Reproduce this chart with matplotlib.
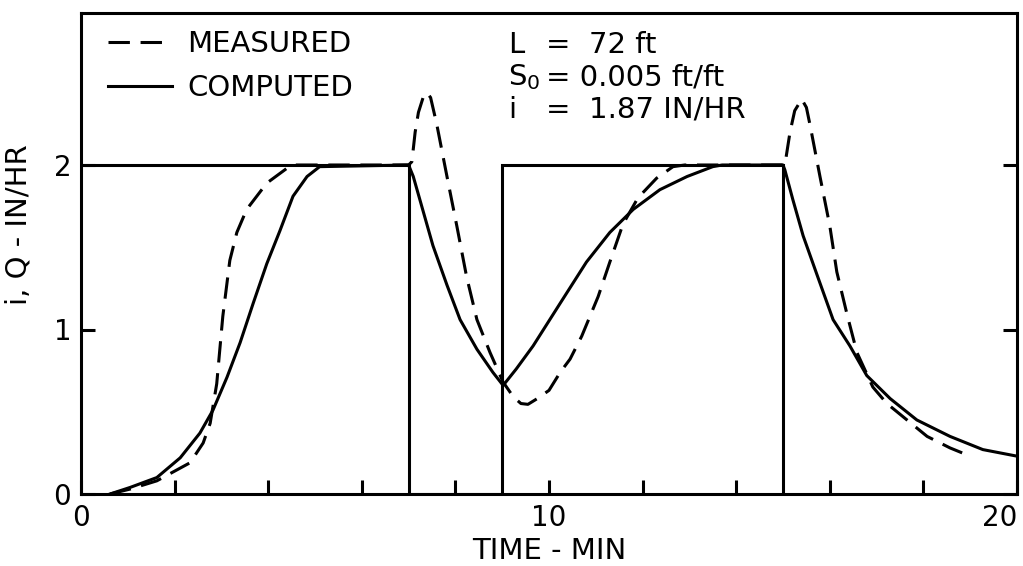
import matplotlib
matplotlib.use('Agg')
import matplotlib.pyplot as plt

# Rainfall step (i) and hydrograph (Q) readings, minutes vs IN/HR
rain_t = [0, 7, 7, 9, 9, 15, 15]
rain_i = [2, 2, 0, 0, 2, 2, 0]

comp_t = [0.62, 1.05, 1.62, 2.12, 2.54, 2.82, 3.12, 3.4, 3.68, 3.97, 4.25, 4.53, 4.83, 5.1,
          7.0, 7.1, 7.3, 7.52, 7.82, 8.1, 8.46, 8.8, 9.02,
          9.3, 9.66, 10.24, 10.8, 11.3, 11.8, 12.37, 12.95, 13.5, 13.7,
          15.0, 15.04, 15.21, 15.43, 15.73, 16.07, 16.43, 16.79, 17.29, 17.86, 18.57, 19.27, 20.0]
comp_q = [0.0, 0.04, 0.1, 0.22, 0.37, 0.51, 0.71, 0.92, 1.16, 1.4, 1.6, 1.81, 1.93, 1.99,
          2.0, 1.93, 1.73, 1.51, 1.27, 1.06, 0.88, 0.74, 0.66,
          0.76, 0.9, 1.16, 1.41, 1.59, 1.73, 1.85, 1.93, 1.99, 2.0,
          2.0, 1.97, 1.79, 1.57, 1.33, 1.06, 0.9, 0.72, 0.58, 0.45, 0.35, 0.27, 0.23]

meas_t = [0.62, 1.05, 1.62, 2.33, 2.61, 2.76, 2.9, 3.03, 3.18, 3.33, 3.54, 3.97, 4.4, 4.6,
          7.0, 7.07, 7.14, 7.21, 7.31, 7.39, 7.47, 7.6, 7.82, 8.03, 8.24, 8.46, 8.74, 9.02, 9.24,
          9.4, 9.55, 9.75, 10.0, 10.24, 10.45, 10.7, 11.05, 11.3, 11.58, 11.9, 12.3, 12.65, 12.9,
          15.0, 15.04, 15.15, 15.25, 15.4, 15.5, 15.58, 15.79, 16.0, 16.15, 16.37, 16.58, 16.92,
          17.22, 17.65, 18.08, 18.57, 19.0]
meas_q = [0.0, 0.03, 0.08, 0.19, 0.31, 0.43, 0.67, 1.08, 1.42, 1.59, 1.73, 1.89, 1.98, 2.0,
          2.0, 2.02, 2.2, 2.32, 2.41, 2.44, 2.41, 2.25, 1.93, 1.63, 1.32, 1.06, 0.86, 0.68, 0.59,
          0.55, 0.545, 0.58, 0.63, 0.74, 0.82, 0.96, 1.2, 1.41, 1.64, 1.8, 1.92, 1.99, 2.0,
          2.0, 2.0, 2.2, 2.33, 2.4, 2.35, 2.24, 1.93, 1.63, 1.35, 1.09, 0.86, 0.65,
          0.55, 0.45, 0.35, 0.28, 0.23]

x_ticks = list(range(0, 21, 2))
x_labels = ['0', '', '', '', '', '10', '', '', '', '', '20']
y_ticks = [0, 1, 2]

W, H = 1023, 566
LW = 2.2
FONT = 'DejaVu Sans'

fig = plt.figure(figsize=(W / 100, H / 100), dpi=100)
fig.patch.set_facecolor('white')
ax = fig.add_axes([81 / W, 1 - 494 / H, 936 / W, 481 / H])


def px(x, y):
    # pixel position -> figure fraction
    return x / W, 1 - y / H


ax.plot(rain_t, rain_i, color='black', lw=LW, solid_joinstyle='miter')
meas_line, = ax.plot(meas_t, meas_q, color='black', lw=LW, dashes=(7, 3.5),
                     label='MEASURED')
comp_line, = ax.plot(comp_t, comp_q, color='black', lw=LW, label='COMPUTED')

ax.set_xlim(0, 20)
ax.set_ylim(0, 481 / 164.5)

ax.set_xticks(x_ticks)
ax.set_xticklabels(x_labels)
ax.set_yticks(y_ticks)
ax.tick_params(direction='in', length=10, width=LW, labelsize=20, right=True,
               pad=7, colors='black')
for lab in ax.get_xticklabels() + ax.get_yticklabels():
    lab.set_family(FONT)
ax.get_xticklabels()[-1].set_horizontalalignment('right')
for s in ax.spines.values():
    s.set_linewidth(LW)

ax.set_xlabel('TIME - MIN', fontsize=21, family=FONT, labelpad=4)
ax.set_ylabel('i, Q - IN/HR', fontsize=21, family=FONT)
ax.yaxis.set_label_coords(-48 / 936, 0.56)

leg = ax.legend(handles=[meas_line, comp_line], loc='upper left',
                bbox_to_anchor=(0.029, 0.965), frameon=False, borderpad=0,
                borderaxespad=0, handlelength=2.2, handletextpad=0.5,
                labelspacing=0.55, prop={'family': FONT, 'size': 21})

# parameter block, '=' signs aligned
params = [('L', '=  72 ft', 45),
          (r'$\mathregular{S_0}$', '= 0.005 ft/ft', 77),
          ('i', '=  1.87 IN/HR', 110)]
for left, right, yy in params:
    fig.text(*px(508, yy), left, fontsize=21, family=FONT, va='center', ha='left')
    fig.text(*px(546, yy), right, fontsize=21, family=FONT, va='center', ha='left')

fig.savefig('out.png', dpi=100, facecolor='white')
